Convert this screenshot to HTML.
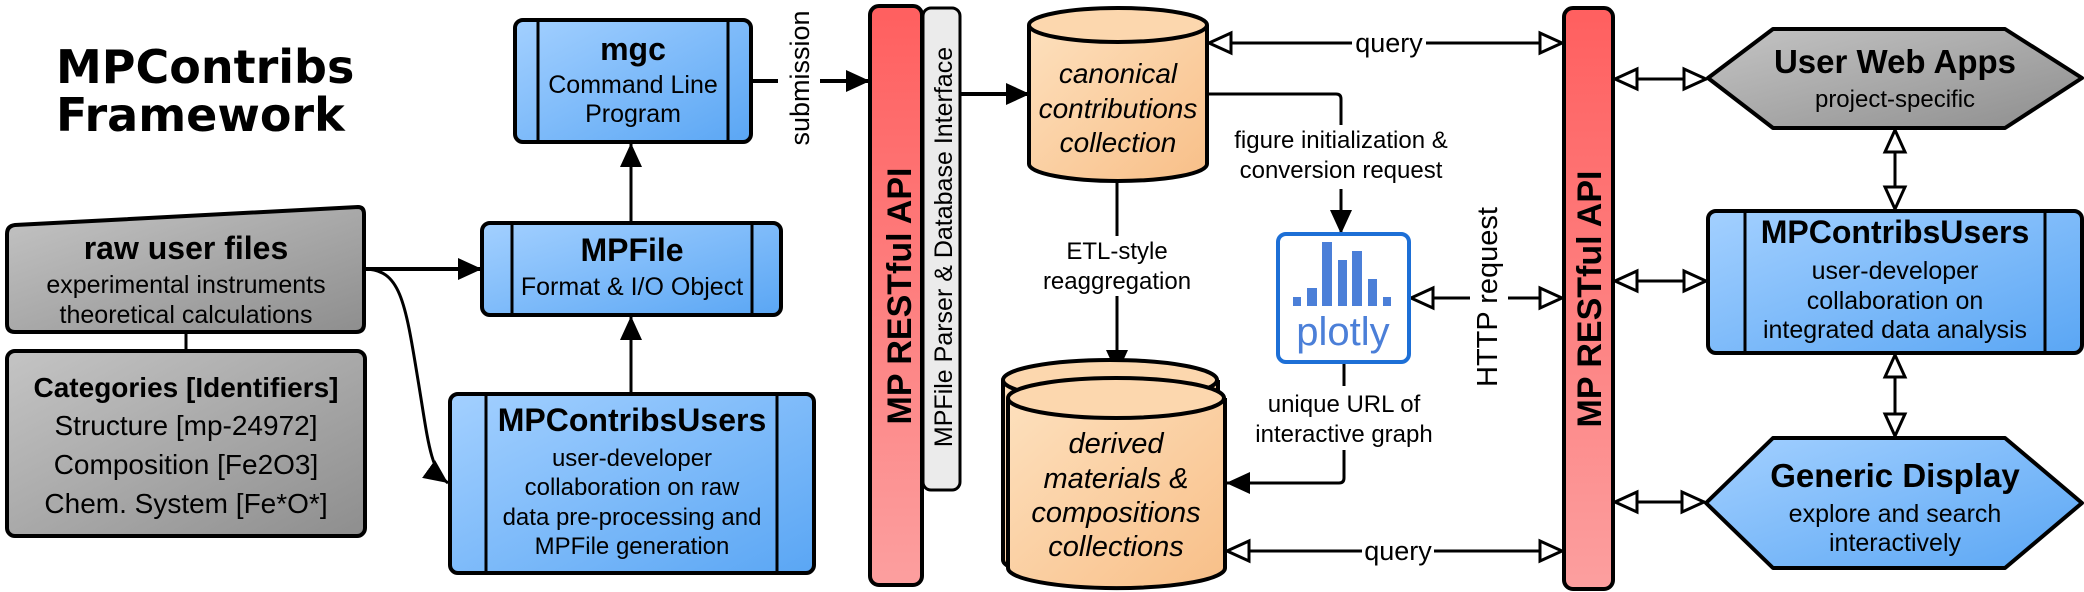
<!DOCTYPE html>
<html><head><meta charset="utf-8"><style>
html,body{margin:0;padding:0;background:#fff;}
svg{display:block;}
text{font-family:"Liberation Sans Narrow","Liberation Sans",sans-serif;fill:#000;}
.w{font-family:"Liberation Sans",sans-serif;}
</style></head><body>
<svg width="2084" height="592" viewBox="0 0 2084 592" xmlns="http://www.w3.org/2000/svg">
<defs>
<linearGradient id="blue" x1="0" y1="0" x2="1" y2="1"><stop offset="0" stop-color="#a3d0ff"/><stop offset="1" stop-color="#5aa6f4"/></linearGradient>
<linearGradient id="gray" x1="0" y1="0" x2="1" y2="1"><stop offset="0" stop-color="#c4c4c4"/><stop offset="1" stop-color="#8e8e8e"/></linearGradient>
<linearGradient id="org" x1="0" y1="0" x2="1" y2="1"><stop offset="0" stop-color="#fde0bd"/><stop offset="1" stop-color="#f8bf88"/></linearGradient>
<linearGradient id="red" x1="0" y1="0" x2="0" y2="1"><stop offset="0" stop-color="#ff5f5f"/><stop offset="1" stop-color="#fc9f9f"/></linearGradient>
<marker id="fa" markerUnits="userSpaceOnUse" markerWidth="26" markerHeight="26" refX="24" refY="13" orient="auto"><path d="M0,2 L24,13 L0,24 Z" fill="#000"/></marker>
<marker id="oa" markerUnits="userSpaceOnUse" markerWidth="28" markerHeight="26" refX="25" refY="13" orient="auto"><path d="M2,3 L24,13 L2,23 Z" fill="#fff" stroke="#000" stroke-width="3"/></marker>
<marker id="oas" markerUnits="userSpaceOnUse" markerWidth="28" markerHeight="26" refX="25" refY="13" orient="auto-start-reverse"><path d="M2,3 L24,13 L2,23 Z" fill="#fff" stroke="#000" stroke-width="3"/></marker>
</defs>

<!-- title -->
<text class="w" x="56" y="83" font-size="46" font-weight="bold" style="font-family:'DejaVu Sans','Liberation Sans',sans-serif">MPContribs</text>
<text class="w" x="56" y="131" font-size="46" font-weight="bold" style="font-family:'DejaVu Sans','Liberation Sans',sans-serif">Framework</text>

<!-- connectors left -->
<g stroke="#000" stroke-width="4" fill="none">
<line x1="364" y1="269" x2="482" y2="269" marker-end="url(#fa)"/>
<path d="M364,269 C400,269 405,300 418,380 C428,440 430,470 448,483" marker-end="url(#fa)" stroke-width="3"/>
<line x1="631" y1="394" x2="631" y2="316" marker-end="url(#fa)" stroke-width="3"/>
<line x1="631" y1="223" x2="631" y2="143" marker-end="url(#fa)" stroke-width="3"/>
<line x1="186" y1="332" x2="186" y2="352" stroke-width="3"/>
<line x1="751" y1="81" x2="778" y2="81"/>
<line x1="820" y1="81" x2="870" y2="81" marker-end="url(#fa)"/>
<line x1="960" y1="94" x2="1030" y2="94" marker-end="url(#fa)"/>
</g>

<!-- raw user files -->
<path d="M7,234 Q7,226 15,225 L358,207 Q364,207 364,214 L364,324 Q364,332 356,332 L15,332 Q7,332 7,324 Z" fill="url(#gray)" stroke="#000" stroke-width="4"/>
<text x="186" y="259" font-size="32" font-weight="bold" text-anchor="middle">raw user files</text>
<text x="186" y="293" font-size="25" text-anchor="middle">experimental instruments</text>
<text x="186" y="323" font-size="25" text-anchor="middle">theoretical calculations</text>
<rect x="7" y="351" width="358" height="185" rx="8" fill="url(#gray)" stroke="#000" stroke-width="4"/>
<text x="186" y="397" font-size="28" font-weight="bold" text-anchor="middle">Categories [Identifiers]</text>
<text x="186" y="435" font-size="28" text-anchor="middle">Structure [mp-24972]</text>
<text x="186" y="474" font-size="28" text-anchor="middle">Composition [Fe2O3]</text>
<text x="186" y="513" font-size="28" text-anchor="middle">Chem. System [Fe*O*]</text>

<!-- mgc -->
<rect x="515" y="20" width="236" height="122" rx="8" fill="url(#blue)" stroke="#000" stroke-width="4"/>
<line x1="538" y1="20" x2="538" y2="142" stroke="#000" stroke-width="3"/>
<line x1="728" y1="20" x2="728" y2="142" stroke="#000" stroke-width="3"/>
<text x="633" y="60" font-size="32" font-weight="bold" text-anchor="middle">mgc</text>
<text x="633" y="93" font-size="25" text-anchor="middle">Command Line</text>
<text x="633" y="122" font-size="25" text-anchor="middle">Program</text>

<!-- MPFile -->
<rect x="482" y="223" width="299" height="92" rx="8" fill="url(#blue)" stroke="#000" stroke-width="4"/>
<line x1="512" y1="223" x2="512" y2="315" stroke="#000" stroke-width="3"/>
<line x1="752" y1="223" x2="752" y2="315" stroke="#000" stroke-width="3"/>
<text x="632" y="261" font-size="32" font-weight="bold" text-anchor="middle">MPFile</text>
<text x="632" y="295" font-size="25" text-anchor="middle">Format &amp; I/O Object</text>

<!-- MPContribsUsers left -->
<rect x="450" y="394" width="364" height="179" rx="8" fill="url(#blue)" stroke="#000" stroke-width="4"/>
<line x1="486" y1="394" x2="486" y2="573" stroke="#000" stroke-width="3"/>
<line x1="777" y1="394" x2="777" y2="573" stroke="#000" stroke-width="3"/>
<text x="632" y="431" font-size="32" font-weight="bold" text-anchor="middle">MPContribsUsers</text>
<text x="632" y="466" font-size="24" text-anchor="middle">user-developer</text>
<text x="632" y="495" font-size="24" text-anchor="middle">collaboration on raw</text>
<text x="632" y="525" font-size="24" text-anchor="middle">data pre-processing and</text>
<text x="632" y="554" font-size="24" text-anchor="middle">MPFile generation</text>

<text class="w" transform="translate(809,78) rotate(-90)" font-size="27" text-anchor="middle">submission</text>

<!-- left API bars -->
<rect x="923" y="8" width="37" height="482" rx="8" fill="#ebebeb" stroke="#000" stroke-width="3"/>
<rect x="870" y="6" width="52" height="579" rx="9" fill="url(#red)" stroke="#000" stroke-width="4"/>
<text class="w" transform="translate(911,296) rotate(-90)" font-size="34" font-weight="bold" text-anchor="middle">MP RESTful API</text>
<text class="w" transform="translate(952,247) rotate(-90)" font-size="25" text-anchor="middle">MPFile Parser &amp; Database Interface</text>

<!-- middle connectors -->
<g stroke="#000" stroke-width="3" fill="none">
<path d="M1207,94 L1336,94 Q1341,94 1341,99 L1341,125"/>
<line x1="1341" y1="189" x2="1341" y2="234" marker-end="url(#fa)"/>
<line x1="1117" y1="181" x2="1117" y2="236"/>
<line x1="1117" y1="296" x2="1117" y2="374" marker-end="url(#fa)"/>
<line x1="1344" y1="362" x2="1344" y2="386"/>
<path d="M1344,450 L1344,478 Q1344,483 1339,483 L1226,483" marker-end="url(#fa)"/>
<line x1="1208" y1="43" x2="1352" y2="43" marker-start="url(#oas)"/>
<line x1="1426" y1="43" x2="1563" y2="43" marker-end="url(#oa)"/>
<line x1="1226" y1="551" x2="1362" y2="551" marker-start="url(#oas)"/>
<line x1="1434" y1="551" x2="1563" y2="551" marker-end="url(#oa)"/>
<line x1="1410" y1="298" x2="1470" y2="298" marker-start="url(#oas)"/>
<line x1="1508" y1="298" x2="1563" y2="298" marker-end="url(#oa)"/>
<line x1="1614" y1="79" x2="1707" y2="79" marker-start="url(#oas)" marker-end="url(#oa)"/>
<line x1="1614" y1="281" x2="1707" y2="281" marker-start="url(#oas)" marker-end="url(#oa)"/>
<line x1="1614" y1="502" x2="1705" y2="502" marker-start="url(#oas)" marker-end="url(#oa)"/>
<line x1="1895" y1="129" x2="1895" y2="210" marker-start="url(#oas)" marker-end="url(#oa)"/>
<line x1="1895" y1="354" x2="1895" y2="437" marker-start="url(#oas)" marker-end="url(#oa)"/>
</g>

<!-- canonical cylinder -->
<path d="M1029,25 L1029,164 A89,17 0 0 0 1207,164 L1207,25" fill="url(#org)" stroke="#000" stroke-width="4"/>
<ellipse cx="1118" cy="25" rx="89" ry="17" fill="#fcd7ae" stroke="#000" stroke-width="4"/>
<text x="1118" y="83" font-size="28" font-style="italic" text-anchor="middle">canonical</text>
<text x="1118" y="118" font-size="28" font-style="italic" text-anchor="middle">contributions</text>
<text x="1118" y="152" font-size="28" font-style="italic" text-anchor="middle">collection</text>

<!-- derived cylinders -->
<path d="M1003,380 L1003,560 A107,20 0 0 0 1218,560 L1218,380" fill="url(#org)" stroke="#000" stroke-width="4"/>
<ellipse cx="1110" cy="380" rx="107" ry="20" fill="#fcd7ae" stroke="#000" stroke-width="4"/>
<path d="M1008,398 L1008,568 A108,20 0 0 0 1225,568 L1225,398" fill="url(#org)" stroke="#000" stroke-width="4"/>
<ellipse cx="1116" cy="398" rx="108" ry="20" fill="#fcd7ae" stroke="#000" stroke-width="4"/>
<text x="1116" y="453" font-size="29" font-style="italic" text-anchor="middle">derived</text>
<text x="1116" y="488" font-size="29" font-style="italic" text-anchor="middle">materials &amp;</text>
<text x="1116" y="522" font-size="29" font-style="italic" text-anchor="middle">compositions</text>
<text x="1116" y="556" font-size="29" font-style="italic" text-anchor="middle">collections</text>

<!-- labels -->
<text x="1341" y="148" font-size="24" text-anchor="middle">figure initialization &amp;</text>
<text x="1341" y="178" font-size="24" text-anchor="middle">conversion request</text>
<text x="1117" y="259" font-size="24" text-anchor="middle">ETL-style</text>
<text x="1117" y="289" font-size="24" text-anchor="middle">reaggregation</text>
<text x="1344" y="412" font-size="24" text-anchor="middle">unique URL of</text>
<text x="1344" y="442" font-size="24" text-anchor="middle">interactive graph</text>
<text x="1389" y="52" font-size="27" text-anchor="middle">query</text>
<text x="1398" y="560" font-size="27" text-anchor="middle">query</text>
<text class="w" transform="translate(1497,297) rotate(-90)" font-size="29" text-anchor="middle">HTTP request</text>

<!-- plotly -->
<rect x="1278" y="234" width="131" height="128" rx="8" fill="#fff" stroke="#1d6fd6" stroke-width="4"/>
<g fill="#4b7fd8">
<rect x="1293" y="297" width="8" height="9"/>
<rect x="1307" y="288" width="10" height="18"/>
<rect x="1322" y="242" width="10" height="64"/>
<rect x="1338" y="260" width="9" height="46"/>
<rect x="1352" y="251" width="10" height="55"/>
<rect x="1368" y="279" width="9" height="27"/>
<rect x="1383" y="297" width="8" height="9"/>
</g>
<text class="w" x="1343" y="345" font-size="40" text-anchor="middle" style="fill:#4b7fd8;font-family:'Liberation Sans',sans-serif">plotly</text>

<!-- right API bar -->
<rect x="1564" y="8" width="49" height="581" rx="9" fill="url(#red)" stroke="#000" stroke-width="4"/>
<text class="w" transform="translate(1601,299) rotate(-90)" font-size="34" font-weight="bold" text-anchor="middle">MP RESTful API</text>

<!-- right nodes -->
<polygon points="1708,78 1773,29 2005,29 2082,78 2005,128 1773,128" fill="url(#gray)" stroke="#000" stroke-width="4" stroke-linejoin="round"/>
<text x="1895" y="73" font-size="33" font-weight="bold" text-anchor="middle">User Web Apps</text>
<text x="1895" y="107" font-size="24" text-anchor="middle">project-specific</text>

<rect x="1708" y="211" width="374" height="142" rx="8" fill="url(#blue)" stroke="#000" stroke-width="4"/>
<line x1="1745" y1="211" x2="1745" y2="353" stroke="#000" stroke-width="3"/>
<line x1="2045" y1="211" x2="2045" y2="353" stroke="#000" stroke-width="3"/>
<text x="1895" y="243" font-size="32" font-weight="bold" text-anchor="middle">MPContribsUsers</text>
<text x="1895" y="279" font-size="25" text-anchor="middle">user-developer</text>
<text x="1895" y="309" font-size="25" text-anchor="middle">collaboration on</text>
<text x="1895" y="338" font-size="25" text-anchor="middle">integrated data analysis</text>

<polygon points="1706,503 1773,438 2005,438 2082,503 2005,568 1773,568" fill="url(#blue)" stroke="#000" stroke-width="4" stroke-linejoin="round"/>
<text x="1895" y="487" font-size="33" font-weight="bold" text-anchor="middle">Generic Display</text>
<text x="1895" y="522" font-size="25" text-anchor="middle">explore and search</text>
<text x="1895" y="551" font-size="25" text-anchor="middle">interactively</text>
</svg>
</body></html>
